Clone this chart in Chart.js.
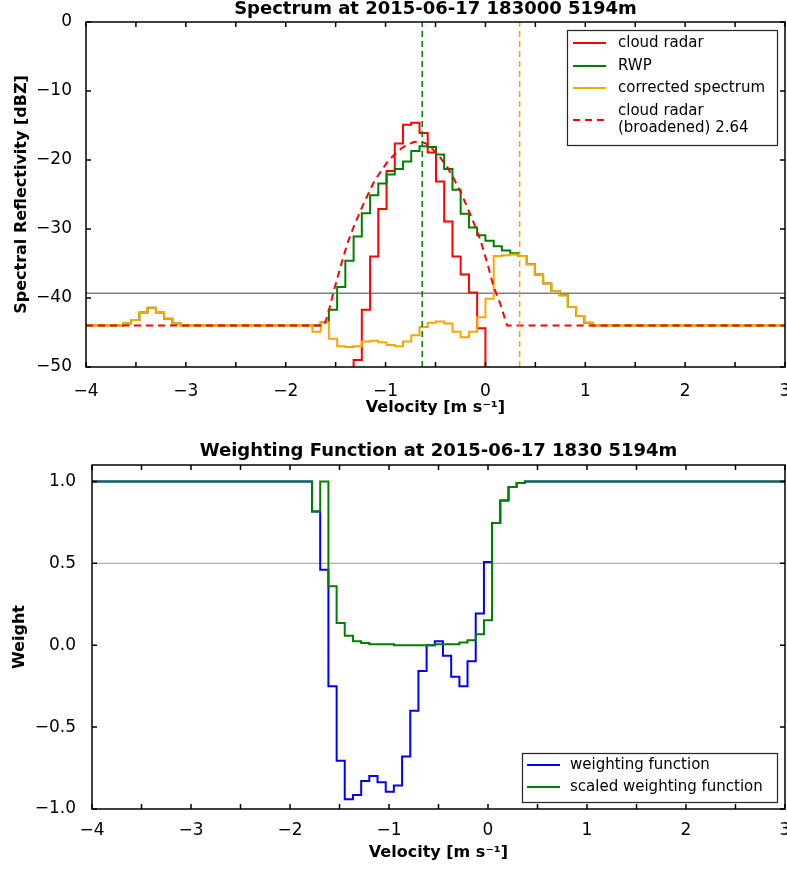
<!DOCTYPE html>
<html lang="en">
<head>
<meta charset="UTF-8" />
<title>Spectrum / Weighting Function</title>
<style>
  body { margin: 0; background: #fff; }
  canvas { display: block; }
</style>
</head>
<body>
<canvas id="specChart" width="787" height="420"></canvas>
<canvas id="weightChart" width="787" height="449"></canvas>
<script src="https://cdn.jsdelivr.net/npm/chart.js@4.4.0/dist/chart.umd.min.js"></script>
<script>
// ---- spectrum panel: bin left edges [m/s] and values [dBZ]
const specVel = [
  -4.0,
  -3.63, -3.548, -3.465, -3.383, -3.3, -3.218, -3.135, -3.053,
  -1.733, -1.65, -1.568, -1.485, -1.403, -1.32, -1.238, -1.155, -1.073, -0.99,
  -0.908, -0.825, -0.743, -0.66, -0.578, -0.495, -0.413, -0.33, -0.248, -0.165,
  -0.083, 0.0, 0.083, 0.165, 0.248, 0.33, 0.413, 0.495, 0.578, 0.66,
  0.743, 0.825, 0.908, 0.99, 1.073, 3.0
];
const cloudRadar = [
  -60,
  -60, -60, -60, -60, -60, -60, -60, -60,
  -60, -60, -60, -60, -60, -49.0, -41.7, -34.0, -27.1, -21.6,
  -17.6, -14.9, -14.6, -16.1, -18.9, -23.1, -28.9, -34.0, -36.6, -39.2,
  -44.4, -60, -60, -60, -60, -60, -60, -60, -60, -60,
  -60, -60, -60, -60, -60, -60
];
const rwp = [
  -44,
  -43.7, -43.2, -42.1, -41.4, -42.1, -43.0, -43.7, -44,
  -44, -43.5, -41.7, -38.4, -34.6, -31.1, -27.7, -25.1, -23.4, -22.1,
  -21.3, -20.2, -18.7, -18.0, -18.1, -19.2, -21.3, -24.3, -27.8, -29.8,
  -30.9, -31.7, -32.5, -33.1, -33.5, -33.9, -35.1, -36.6, -37.9, -39.0,
  -39.6, -41.3, -42.6, -43.6, -44, -44
];
const corrected = [
  -44,
  -43.7, -43.2, -42.1, -41.4, -42.1, -43.0, -43.7, -44,
  -44.9, -43.5, -45.9, -47.0, -47.1, -47.0, -46.3, -46.2, -46.4, -46.8,
  -47.0, -46.3, -45.4, -44.2, -43.6, -43.4, -43.7, -44.9, -45.7, -44.9,
  -42.8, -40.1, -33.9, -33.8, -33.7, -33.9, -35.1, -36.6, -37.9, -39.0,
  -39.6, -41.3, -42.6, -43.6, -44, -44
];
const broadVel = [
  -4.0, -1.617, -1.583, -1.517, -1.45, -1.383, -1.317, -1.25, -1.183, -1.117,
  -1.05, -0.983, -0.917, -0.85, -0.783, -0.717, -0.65, -0.583, -0.517, -0.45,
  -0.383, -0.317, -0.25, -0.183, -0.117, -0.05, 0.017, 0.083, 0.15, 0.217, 3.0
];
const broadened = [
  -44, -44, -42.7, -38.9, -35.4, -32.1, -29.6, -27.3, -25.2, -23.2,
  -21.7, -20.3, -19.3, -18.4, -17.8, -17.4, -17.3, -17.7, -18.6, -19.7,
  -21.0, -22.7, -24.6, -26.8, -29.1, -31.6, -34.9, -38.4, -40.9, -44, -44
];
const noiseLevel = -39.3;
const rwpPeakVel = -0.633;
const correctedPeakVel = 0.343;

// ---- weighting panel
const weightVel = [
  -4.0, -1.777, -1.695, -1.612, -1.529, -1.447, -1.364, -1.281, -1.199, -1.116,
  -1.033, -0.951, -0.868, -0.785, -0.703, -0.62, -0.537, -0.455, -0.372, -0.289,
  -0.207, -0.124, -0.041, 0.041, 0.124, 0.207, 0.289, 0.372, 3.0
];
const weighting = [
  1.0, 0.816, 0.46, -0.25, -0.705, -0.941, -0.915, -0.829, -0.799, -0.837,
  -0.894, -0.857, -0.68, -0.40, -0.157, 0.0, 0.024, -0.065, -0.193, -0.25,
  -0.098, 0.193, 0.508, 0.746, 0.884, 0.965, 0.99, 1.0, 1.0
];
const scaledWeighting = [
  1.0, 0.816, 1.0, 0.36, 0.136, 0.057, 0.024, 0.014, 0.006, 0.006,
  0.006, 0.0, 0.0, 0.0, 0.0, 0.0, 0.006, 0.006, 0.006, 0.016,
  0.03, 0.067, 0.152, 0.746, 0.884, 0.965, 0.99, 1.0, 1.0
];
const weightRef = 0.5;

// ---- ticks
const velTicks = [-4, -3, -2, -1, 0, 1, 2, 3];
const velMarks = [-4, -3.5, -3, -2.5, -2, -1.5, -1, -0.5, 0, 0.5, 1, 1.5, 2, 2.5, 3];
const dbzTicks = [-50, -40, -30, -20, -10, 0];
const weightTicks = [-1.0, -0.5, 0.0, 0.5, 1.0];

const FONT = "DejaVu Sans";
const fmt = (v, d) => (v < -1e-9 ? "\u2212" : "") + Math.abs(v).toFixed(d);
const pts = (xs, ys) => xs.map((x, i) => ({ x: x, y: ys[i] }));

// frame with inward ticks on all four sides + legend box
function framePlugin(xMarks, yMarks, legend) {
  return {
    id: "frame",
    afterDraw(chart) {
      const ctx = chart.ctx;
      const a = chart.chartArea;
      const xs = chart.scales.x, ys = chart.scales.y;
      ctx.save();
      ctx.strokeStyle = "#000";
      ctx.lineWidth = 1.5;
      ctx.strokeRect(a.left, a.top, a.right - a.left, a.bottom - a.top);
      ctx.beginPath();
      xMarks.forEach((v) => {
        const p = xs.getPixelForValue(v);
        ctx.moveTo(p, a.bottom); ctx.lineTo(p, a.bottom - 5);
        ctx.moveTo(p, a.top); ctx.lineTo(p, a.top + 5);
      });
      yMarks.forEach((v) => {
        const p = ys.getPixelForValue(v);
        ctx.moveTo(a.left, p); ctx.lineTo(a.left + 5, p);
        ctx.moveTo(a.right, p); ctx.lineTo(a.right - 5, p);
      });
      ctx.stroke();

      // legend
      const b = legend.box;
      ctx.fillStyle = "#fff";
      ctx.fillRect(b[0], b[1], b[2] - b[0], b[3] - b[1]);
      ctx.strokeStyle = "#222";
      ctx.lineWidth = 1.2;
      ctx.strokeRect(b[0] + 0.5, b[1] + 0.5, b[2] - b[0], b[3] - b[1]);
      ctx.font = "15px '" + FONT + "'";
      ctx.textBaseline = "middle";
      ctx.textAlign = "left";
      legend.items.forEach((it) => {
        ctx.strokeStyle = it.color;
        ctx.lineWidth = 2;
        ctx.setLineDash(it.dash || []);
        ctx.beginPath();
        ctx.moveTo(legend.lineX[0], it.y);
        ctx.lineTo(legend.lineX[1], it.y);
        ctx.stroke();
        ctx.setLineDash([]);
        ctx.fillStyle = "#000";
        it.text.forEach((t, j) => ctx.fillText(t, legend.textX, it.textY[j]));
      });
      ctx.restore();
    }
  };
}

function axisX(height, pad, titlePad) {
  return {
    type: "linear", min: -4, max: 3,
    afterBuildTicks: (s) => { s.ticks = velTicks.map((v) => ({ value: v })); },
    afterFit: (s) => { s.height = height; s.paddingLeft = 0; s.paddingRight = 0; },
    grid: { display: false },
    border: { display: false },
    ticks: { color: "#000", font: { family: FONT, size: 17 }, padding: pad, maxRotation: 0, autoSkip: false, callback: (v) => fmt(v, 0) },
    title: { display: true, text: "Velocity [m s\u207B\u00B9]", color: "#000", font: { family: FONT, size: 16, weight: "bold" }, padding: { top: 0, bottom: titlePad } }
  };
}

// ---- spectrum chart
new Chart(document.getElementById("specChart"), {
  type: "line",
  data: {
    datasets: [
      { data: [{ x: -4, y: noiseLevel }, { x: 3, y: noiseLevel }], borderColor: "#808080", borderWidth: 1.5, pointRadius: 0, order: 7 },
      { label: "cloud radar", data: pts(specVel, cloudRadar), borderColor: "#ff0000", borderWidth: 2, pointRadius: 0, stepped: true, order: 6 },
      { label: "RWP", data: pts(specVel, rwp), borderColor: "#008000", borderWidth: 2, pointRadius: 0, stepped: true, order: 5 },
      { label: "corrected spectrum", data: pts(specVel, corrected), borderColor: "#ffa500", borderWidth: 2, pointRadius: 0, stepped: true, order: 4 },
      { label: "cloud radar (broadened) 2.64", data: pts(broadVel, broadened), borderColor: "#ff0000", borderWidth: 2, borderDash: [7, 5], pointRadius: 0, order: 3 },
      { data: [{ x: rwpPeakVel, y: -50 }, { x: rwpPeakVel, y: 0 }], borderColor: "#008000", borderWidth: 1.5, borderDash: [6, 4], pointRadius: 0, order: 2 },
      { data: [{ x: correctedPeakVel, y: -50 }, { x: correctedPeakVel, y: 0 }], borderColor: "#ffa500", borderWidth: 1.5, borderDash: [6, 4], pointRadius: 0, order: 1 }
    ]
  },
  options: {
    responsive: false,
    animation: false,
    layout: { padding: { left: 0, right: 2, top: 0, bottom: 0 } },
    plugins: {
      legend: { display: false },
      tooltip: { enabled: false },
      title: {
        display: true, fullSize: false, text: "Spectrum at 2015-06-17 183000 5194m", color: "#000",
        font: { family: FONT, size: 18, weight: "bold", lineHeight: 1 }, padding: { top: 0, bottom: 4 }
      }
    },
    scales: {
      x: axisX(53, 6, 3),
      y: {
        min: -50, max: 0,
        afterBuildTicks: (s) => { s.ticks = dbzTicks.map((v) => ({ value: v })); },
        afterFit: (s) => { s.width = 86; },
        grid: { display: false },
        border: { display: false },
        ticks: { color: "#000", font: { family: FONT, size: 17 }, padding: 6, callback: (v) => fmt(v, 0) },
        title: { display: true, text: "Spectral Reflectivity [dBZ]", color: "#000", font: { family: FONT, size: 16, weight: "bold" }, padding: { top: 12, bottom: 0 } }
      }
    }
  },
  plugins: [framePlugin(velMarks, dbzTicks, {
    box: [567, 30, 777, 145],
    lineX: [573, 606],
    textX: 618,
    items: [
      { color: "#ff0000", y: 43, text: ["cloud radar"], textY: [43] },
      { color: "#008000", y: 66, text: ["RWP"], textY: [66] },
      { color: "#ffa500", y: 88, text: ["corrected spectrum"], textY: [88] },
      { color: "#ff0000", dash: [7, 5], y: 120, text: ["cloud radar", "(broadened) 2.64"], textY: [111, 128] }
    ]
  })]
});

// ---- weighting chart
new Chart(document.getElementById("weightChart"), {
  type: "line",
  data: {
    datasets: [
      { data: [{ x: -4, y: weightRef }, { x: 3, y: weightRef }], borderColor: "#b0b0b0", borderWidth: 1.2, pointRadius: 0, order: 3 },
      { label: "weighting function", data: pts(weightVel, weighting), borderColor: "#0000ff", borderWidth: 2, pointRadius: 0, stepped: true, order: 2 },
      { label: "scaled weighting function", data: pts(weightVel, scaledWeighting), borderColor: "#008000", borderWidth: 2, pointRadius: 0, stepped: true, order: 1 }
    ]
  },
  options: {
    responsive: false,
    animation: false,
    layout: { padding: { left: 0, right: 2, top: 0, bottom: 0 } },
    plugins: {
      legend: { display: false },
      tooltip: { enabled: false },
      title: {
        display: true, fullSize: false, text: "Weighting Function at 2015-06-17 1830 5194m", color: "#000",
        font: { family: FONT, size: 18, weight: "bold", lineHeight: 1 }, padding: { top: 22, bottom: 5 }
      }
    },
    scales: {
      x: axisX(60, 3, 7),
      y: {
        min: -1.0, max: 1.1,
        afterBuildTicks: (s) => { s.ticks = weightTicks.map((v) => ({ value: v })); },
        afterFit: (s) => { s.width = 92; },
        grid: { display: false },
        border: { display: false },
        ticks: { color: "#000", font: { family: FONT, size: 17 }, padding: 8, callback: (v) => fmt(v, 1) },
        title: { display: true, text: "Weight", color: "#000", font: { family: FONT, size: 16, weight: "bold" }, padding: { top: 10, bottom: 0 } }
      }
    }
  },
  plugins: [framePlugin(velMarks, weightTicks, {
    box: [522, 333, 777, 382],
    lineX: [527, 560],
    textX: 570,
    items: [
      { color: "#0000ff", y: 345, text: ["weighting function"], textY: [345] },
      { color: "#008000", y: 367, text: ["scaled weighting function"], textY: [367] }
    ]
  })]
});
</script>
</body>
</html>
